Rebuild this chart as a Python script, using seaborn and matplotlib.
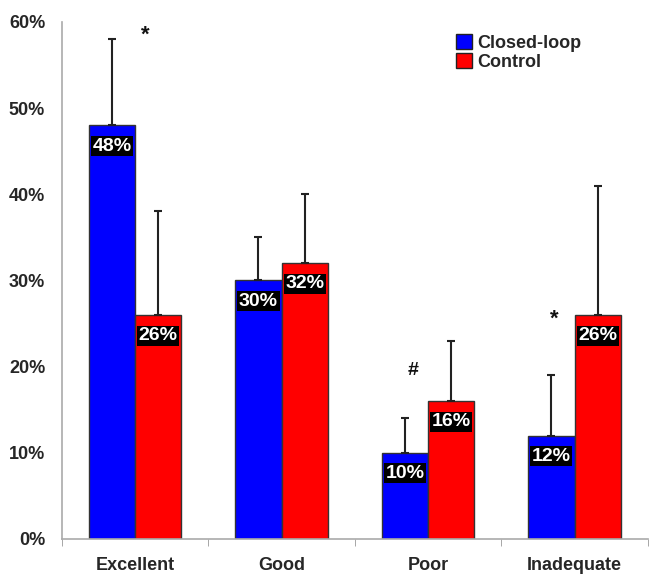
import numpy as np
import pandas as pd
import seaborn as sns
import matplotlib
matplotlib.use("Agg")
import matplotlib.pyplot as plt
from matplotlib.ticker import FixedLocator

# values (percent)
categories = ["Excellent", "Good", "Poor", "Inadequate"]
groups = ["Closed-loop", "Control"]
closed_loop = [48, 30, 10, 12]
control = [26, 32, 16, 26]
closed_err = [10, 5, 4, 7]
control_err = [12, 8, 7, 15]
# significance marks and the level they sit at
mark_cats = ["Excellent", "Poor", "Inadequate"]
mark_syms = ["*", "#", "*"]
mark_levels = [58.5, 19.5, 25.5]

df = pd.DataFrame({
    "category": categories * 2,
    "group": [groups[0]] * 4 + [groups[1]] * 4,
    "value": closed_loop + control,
    "err": closed_err + control_err,
})

sns.set_style("white")
plt.rcParams["font.family"] = ["Liberation Sans", "DejaVu Sans"]

fig = plt.figure(figsize=(6.51, 5.77), dpi=100)
ax = fig.add_axes([0.095, 0.066, 0.9, 0.896])

sns.barplot(data=df, x="category", y="value", hue="group", order=categories,
            hue_order=groups, palette=["#0000FF", "#FF0000"], saturation=1,
            width=0.63, edgecolor="#333333", linewidth=1.0, errorbar=None, ax=ax)

# error bars and value labels on each bar
for cont, g in zip(ax.containers, groups):
    sub = df[df["group"] == g].set_index("category").loc[categories]
    xs = [p.get_x() + p.get_width() / 2 for p in cont.patches]
    ax.errorbar(xs, sub["value"], yerr=[np.zeros(len(xs)), sub["err"]],
                fmt="none", ecolor="#222222", elinewidth=1.5, capsize=3,
                capthick=1.5, zorder=1)
    for x, v in zip(xs, sub["value"]):
        ax.text(x, v - 2.4, f"{v}%", ha="center", va="center", color="white",
                fontsize=14, fontweight="bold",
                bbox=dict(boxstyle="square,pad=0.08", facecolor="black",
                          edgecolor="none"))

mark_dx = [0.07, -0.1, -0.14]
for cat, m, h, dx in zip(mark_cats, mark_syms, mark_levels, mark_dx):
    i = categories.index(cat)
    ax.text(i + dx, h, m, ha="center", va="center", fontsize=16 if m == "*" else 14,
            fontweight="bold", color="#111111")

ax.set_xlim(-0.5, 3.5)
ax.set_ylim(0, 60)
ax.set_yticks(range(0, 61, 10))
ax.set_yticklabels([f"{t}%" for t in range(0, 61, 10)])
ax.xaxis.set_minor_locator(FixedLocator([-0.5, 0.5, 1.5, 2.5, 3.5]))
ax.tick_params(axis="x", which="major", length=0, pad=13)
ax.tick_params(axis="x", which="minor", length=5, color="#999999", direction="out",
               bottom=True)
ax.tick_params(axis="y", length=0, pad=12)
for lab in ax.get_xticklabels() + ax.get_yticklabels():
    lab.set_fontweight("bold")
    lab.set_fontsize(13)
ax.set_xlabel("")
ax.set_ylabel("")
for s in ["top", "right"]:
    ax.spines[s].set_visible(False)
for s in ["left", "bottom"]:
    ax.spines[s].set_color("#aaaaaa")
    ax.spines[s].set_linewidth(1.2)

leg = ax.legend(loc="upper left", bbox_to_anchor=(0.66, 0.99), frameon=False,
                handlelength=0.9, handleheight=0.9, handletextpad=0.3,
                labelspacing=0.05, borderaxespad=0, prop={"weight": "bold", "size": 13})
for h in leg.legend_handles:
    h.set_edgecolor("#222222")

fig.savefig("out.png", dpi=100)
